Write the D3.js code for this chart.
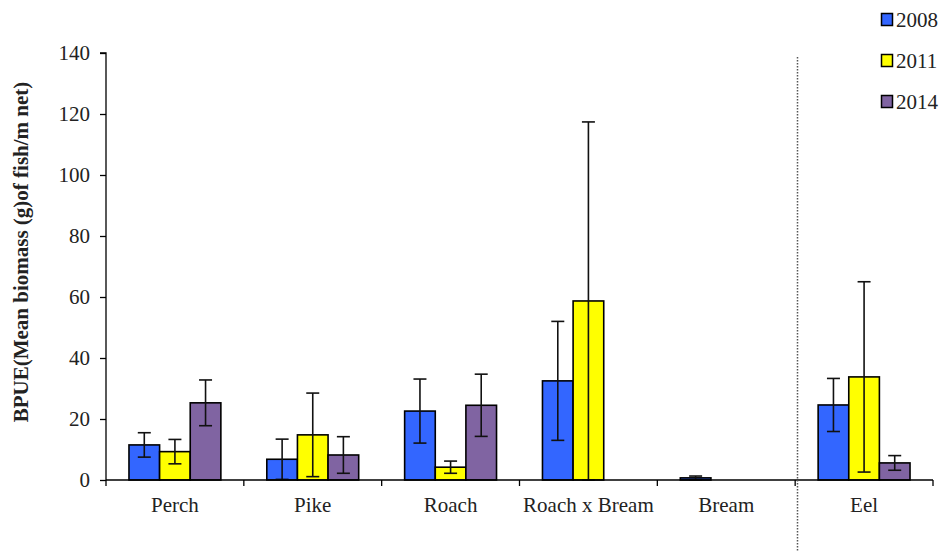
<!DOCTYPE html>
<html><head><meta charset="utf-8">
<script src="https://cdn.jsdelivr.net/npm/d3@7"></script>
<style>body{margin:0;background:#fff}svg{display:block}</style>
</head><body><svg id="c" width="944" height="552"></svg>
<script>
const categories = ["Perch","Pike","Roach","Roach x Bream","Bream","Eel"];
const years = ["2008","2011","2014"];
const colors = ["#3366FF","#FFFF00","#8064A2"];
const v2008 = [11.5, 6.8, 22.6, 32.5, 0.7, 24.6];
const e2008 = [4.0, 6.6, 10.5, 19.5, 0.6, 8.7];
const v2011 = [9.3, 14.8, 4.2, 58.7, 0, 33.8];
const e2011 = [4.0, 13.7, 2.0, 58.7, 0, 31.2];
const v2014 = [25.3, 8.2, 24.5, 0, 0, 5.6];
const e2014 = [7.5, 6.0, 10.2, 0, 0, 2.4];
const yTicks = [0,20,40,60,80,100,120,140];
const yTitle = "BPUE(Mean biomass (g)of fish/m net)";

const values = [v2008, v2011, v2014];
const errors = [e2008, e2011, e2014];
const FONT = "\"Liberation Serif\"";

const svg = d3.select("#c");
const m = {l:106, r:933, t:53, b:480};
const x = d3.scaleBand().domain(categories).range([m.l, m.r]).paddingInner(0).paddingOuter(0);
const x1 = d3.scaleBand().domain(years).range([0, x.bandwidth()]).paddingInner(0).paddingOuter(0.75);
const y = d3.scaleLinear().domain([0,140]).range([m.b, m.t]);

// bars
years.forEach((yr, s) => {
  const g = svg.append("g");
  categories.forEach((c, i) => {
    const v = values[s][i];
    if (v <= 0) return;
    g.append("rect")
      .attr("x", x(c) + x1(yr))
      .attr("y", y(v))
      .attr("width", x1.bandwidth())
      .attr("height", y(0) - y(v))
      .attr("fill", colors[s])
      .attr("stroke", "#000")
      .attr("stroke-width", 1.6);
  });
});
// error bars
years.forEach((yr, s) => {
  categories.forEach((c, i) => {
    const v = values[s][i], e = errors[s][i];
    if (v <= 0 || e <= 0) return;
    const cx = x(c) + x1(yr) + x1.bandwidth()/2;
    const lo = Math.max(0, v - e), hi = v + e;
    const g = svg.append("g").attr("stroke", "#111").attr("stroke-width", 1.6);
    g.append("line").attr("x1", cx).attr("x2", cx).attr("y1", y(lo)).attr("y2", y(hi));
    g.append("line").attr("x1", cx-6.5).attr("x2", cx+6.5).attr("y1", y(hi)).attr("y2", y(hi));
    g.append("line").attr("x1", cx-6.5).attr("x2", cx+6.5).attr("y1", y(lo)).attr("y2", y(lo));
  });
});

// y axis
const ya = svg.append("g").attr("transform", `translate(${m.l},0)`)
  .call(d3.axisLeft(y).tickValues(yTicks).tickSize(6).tickPadding(10));
ya.attr("font-family", null).attr("font-size", null);
ya.select(".domain").attr("stroke", "#000").attr("stroke-width", 1.3).attr("d", `M-6,${m.t}H0V${m.b}`);
ya.selectAll(".tick line").attr("stroke-width", 1.3);
ya.selectAll("text").attr("fill", "#222").style("font-family", FONT).style("font-size", "21px");

// x axis
const boundaries = categories.map(c => x(c)).concat([m.r]);
svg.append("line").attr("x1", m.l).attr("x2", m.r).attr("y1", m.b).attr("y2", m.b)
  .attr("stroke", "#000").attr("stroke-width", 1.3);
svg.selectAll(".xt").data(boundaries).enter().append("line")
  .attr("x1", d => d).attr("x2", d => d).attr("y1", m.b).attr("y2", m.b + 6)
  .attr("stroke", "#000").attr("stroke-width", 1.3);
svg.selectAll(".xl").data(categories).enter().append("text")
  .attr("x", d => x(d) + x.bandwidth()/2).attr("y", 512)
  .attr("text-anchor", "middle").attr("fill", "#222")
  .style("font-family", FONT).style("font-size", "21px")
  .text(d => d);

// dotted separator
svg.append("line").attr("x1", 797.5).attr("x2", 797.5).attr("y1", 57).attr("y2", 552)
  .attr("stroke", "#555").attr("stroke-width", 1.5).attr("stroke-dasharray", "1.5,1.5");

// y title
svg.append("text").attr("transform", "translate(28,252) rotate(-90)")
  .attr("text-anchor", "middle").attr("font-weight", "bold").attr("fill", "#222")
  .style("font-family", FONT).style("font-size", "21px")
  .text(yTitle);

// legend
const lg = svg.append("g");
years.forEach((yr, s) => {
  const ly = 20 + s * 41;
  lg.append("rect").attr("x", 881.5).attr("y", ly - 6.5).attr("width", 11).attr("height", 12)
    .attr("fill", colors[s]).attr("stroke", "#000").attr("stroke-width", 1.5);
  lg.append("text").attr("x", 896).attr("y", ly + 7).attr("fill", "#222")
    .style("font-family", FONT).style("font-size", "21px").text(yr);
});
</script></body></html>
